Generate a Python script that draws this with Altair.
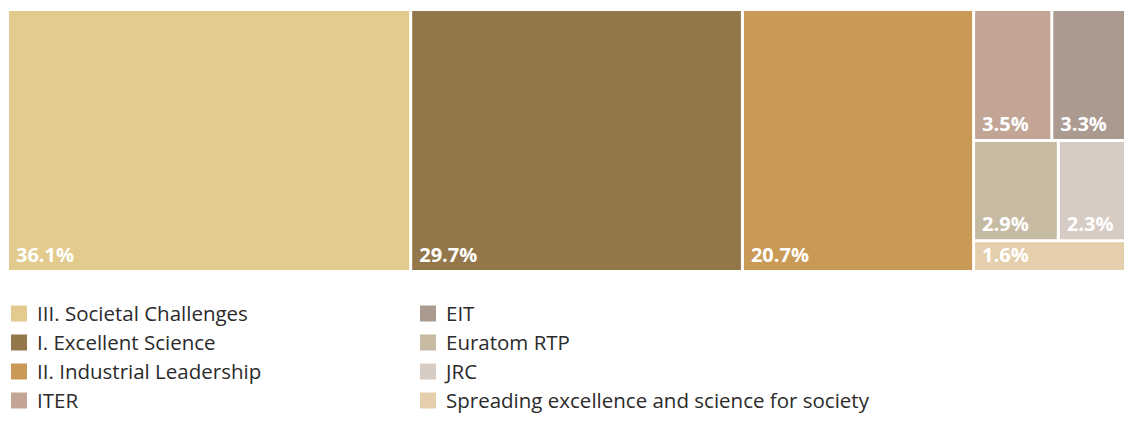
import altair as alt
import pandas as pd

# ---- data ----
categories = [
    "III. Societal Challenges",
    "I. Excellent Science",
    "II. Industrial Leadership",
    "ITER",
    "EIT",
    "Euratom RTP",
    "JRC",
    "Spreading excellence and science for society",
]
shares = [36.1, 29.7, 20.7, 3.5, 3.3, 2.9, 2.3, 1.6]
colors = ["#E2CB8D", "#93774B", "#C99A55", "#C2A595",
          "#AB9A8F", "#C7BAA3", "#D7CCC4", "#E5CFAD"]
# treemap nesting (indices into categories): columns, then rows inside the last column
nesting = [0, 1, 2, [[3, 4], [5, 6], 7]]
# legend placement: column and row of each category
legend_col = [0, 0, 0, 0, 1, 1, 1, 1]
legend_row = [0, 1, 2, 3, 0, 1, 2, 3]

W, H = 1115, 404           # plot area (svg is sized to it)
TW, TH, GAP = 1115, 259, 3  # treemap extent
FONT = "Open Sans"


def total(node):
    if isinstance(node, int):
        return shares[node]
    return sum(total(c) for c in node)


def layout(node, x0, y0, x1, y1, horiz, out):
    if isinstance(node, int):
        out.append(dict(
            cat=categories[node],
            label=f"{shares[node]:.1f}%",
            x0=x0 + GAP / 2, x1=x1 - GAP / 2,
            y0=y0 + GAP / 2, y1=y1 - GAP / 2,
        ))
        return
    t = total(node)
    pos = x0 if horiz else y0
    for c in node:
        frac = total(c) / t
        if horiz:
            w = (x1 - x0) * frac
            layout(c, pos, y0, pos + w, y1, not horiz, out)
            pos += w
        else:
            h = (y1 - y0) * frac
            layout(c, x0, pos, x1, pos + h, not horiz, out)
            pos += h


cells = []
layout(nesting, -GAP / 2, -GAP / 2, TW + GAP / 2, TH + GAP / 2, True, cells)
tm = pd.DataFrame(cells)

color_scale = alt.Scale(domain=categories, range=colors)
xs = alt.Scale(domain=[0, TW], range=[0, TW], nice=False, zero=False)
ys = alt.Scale(domain=[0, TH], range=[0, TH], nice=False, zero=False)

base = alt.Chart(tm)
rects = base.mark_rect().encode(
    x=alt.X("x0:Q", scale=xs, axis=None),
    x2="x1:Q",
    y=alt.Y("y0:Q", scale=ys, axis=None),
    y2="y1:Q",
    color=alt.Color("cat:N", scale=color_scale, legend=None),
)
texts = base.mark_text(
    align="left", baseline="alphabetic", dx=7, dy=-8,
    font=FONT, fontSize=20, fontWeight="bold", color="white",
).encode(
    x=alt.X("x0:Q", scale=xs, axis=None),
    y=alt.Y("y1:Q", scale=ys, axis=None),
    text="label:N",
)
treemap = alt.layer(rects, texts)

leg = pd.DataFrame({"cat": categories, "col": legend_col, "row": legend_row})
lx = alt.Scale(domain=[0, 1], range=[10, 419])
ly = alt.Scale(domain=[-0.5, 3.5], range=[288, 404])
lbase = alt.Chart(leg)
squares = lbase.mark_square(size=256, opacity=1).encode(
    x=alt.X("col:Q", scale=lx, axis=None),
    y=alt.Y("row:Q", scale=ly, axis=None),
    color=alt.Color("cat:N", scale=color_scale, legend=None),
)
ltext = lbase.mark_text(
    align="left", baseline="middle", dx=18, dy=1,
    font=FONT, fontSize=20.5, fontWeight="normal", color="#2b2b2b",
).encode(
    x=alt.X("col:Q", scale=lx, axis=None),
    y=alt.Y("row:Q", scale=ly, axis=None),
    text="cat:N",
)
legend = alt.layer(squares, ltext)

chart = alt.layer(treemap, legend).resolve_scale(
    x="independent", y="independent"
).properties(
    width=W, height=H,
    padding={"left": 1, "top": 3, "right": 0, "bottom": 0},
    autosize=alt.AutoSizeParams(type="none"),
).configure_view(stroke=None)

chart.save("out.html", embed_options={"renderer": "svg", "actions": False})
